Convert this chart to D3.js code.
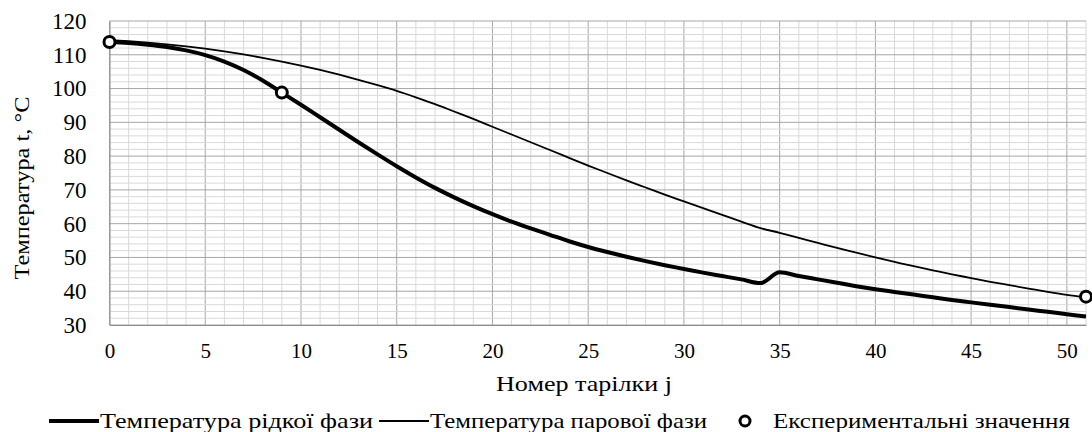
<!DOCTYPE html>
<html>
<head>
<meta charset="utf-8">
<script src="https://cdn.jsdelivr.net/npm/d3@7"></script>
<style>
  body { margin: 0; background: #fff; }
  svg { display: block; }
</style>
</head>
<body>
<svg width="1092" height="432"></svg>
<script>
// номери тарілок
var plates = d3.range(0, 52);

// температура рідкої фази, °C
var liquid = [113.8, 113.5, 113.0, 112.3, 111.3, 109.9, 108.0, 105.5, 102.4, 98.8,
              95.2, 91.5, 87.8, 84.1, 80.5, 77.0, 73.7, 70.6, 67.8, 65.2,
              62.8, 60.6, 58.6, 56.7, 54.8, 53.1, 51.6, 50.2, 48.9, 47.7,
              46.6, 45.5, 44.5, 43.5, 42.4, 45.6, 44.5, 43.5, 42.5, 41.5,
              40.6, 39.8, 39.0, 38.2, 37.4, 36.7, 36.0, 35.3, 34.6, 33.9,
              33.2, 32.5];

// температура парової фази, °C
var vapor = [114.3, 114.0, 113.6, 113.1, 112.5, 111.8, 111.0, 110.1, 109.1, 108.0,
             106.8, 105.5, 104.1, 102.6, 101.0, 99.3, 97.4, 95.4, 93.2, 91.0,
             88.7, 86.4, 84.1, 81.8, 79.5, 77.2, 75.0, 72.8, 70.7, 68.6,
             66.6, 64.6, 62.6, 60.6, 58.7, 57.3, 55.8, 54.3, 52.8, 51.4,
             50.0, 48.7, 47.4, 46.2, 45.0, 43.9, 42.8, 41.8, 40.8, 39.8,
             38.9, 38.2];

// експериментальні значення
var expPlates = [0, 9, 51];
var expValues = [113.8, 98.8, 38.4];

var xTicks = [0, 5, 10, 15, 20, 25, 30, 35, 40, 45, 50];
var yTicks = [30, 40, 50, 60, 70, 80, 90, 100, 110, 120];

var svg = d3.select('svg');
var pl = 109.5, pr = 1086, pt = 21, pb = 325;
var serif = '"Liberation Serif", "Times New Roman", serif';

var x = d3.scaleLinear().domain([0, 51]).range([pl, pr]);
var y = d3.scaleLinear().domain([30, 120]).range([pb, pt]);

// сітка
var grid = svg.append('g');
grid.selectAll('line.v')
    .data(d3.range(0, 52))
    .enter().append('line')
    .attr('x1', d => x(d)).attr('x2', d => x(d))
    .attr('y1', pt).attr('y2', pb)
    .attr('stroke', d => d % 5 == 0 ? '#a6a6a6' : '#d9d9d9')
    .attr('stroke-width', 1);
grid.selectAll('line.h')
    .data(d3.range(30, 121, 2))
    .enter().append('line')
    .attr('x1', pl).attr('x2', pr)
    .attr('y1', d => y(d)).attr('y2', d => y(d))
    .attr('stroke', d => d % 10 == 0 ? '#a6a6a6' : '#d9d9d9')
    .attr('stroke-width', 1);

// осі
var xAxis = d3.axisBottom(x).tickValues(xTicks).tickSize(0).tickPadding(18);
var yAxis = d3.axisLeft(y).tickValues(yTicks).tickSize(0).tickPadding(23);

var gx = svg.append('g').attr('transform', 'translate(0,' + pb + ')').call(xAxis)
    .attr('font-family', serif).attr('font-size', 21);
var gy = svg.append('g').attr('transform', 'translate(' + pl + ',0)').call(yAxis)
    .attr('font-family', serif).attr('font-size', 23);
gx.select('.domain').attr('stroke', '#8c8c8c');
gy.select('.domain').attr('stroke', '#8c8c8c');
svg.selectAll('.tick text').attr('fill', '#000');

svg.append('text')
    .attr('x', 584).attr('y', 391)
    .attr('text-anchor', 'middle')
    .attr('font-family', serif)
    .attr('font-size', 22)
    .attr('textLength', 176)
    .attr('lengthAdjust', 'spacingAndGlyphs')
    .text('Номер тарілки j');

svg.append('text')
    .attr('transform', 'translate(29,188) rotate(-90)')
    .attr('text-anchor', 'middle')
    .attr('font-family', serif)
    .attr('font-size', 22)
    .attr('textLength', 183)
    .attr('lengthAdjust', 'spacingAndGlyphs')
    .text('Температура t, °C');

// лінії
var line = d3.line()
    .x((d, i) => x(plates[i]))
    .y(d => y(d))
    .curve(d3.curveMonotoneX);

svg.append('path')
    .datum(vapor)
    .attr('d', line)
    .attr('fill', 'none')
    .attr('stroke', '#000')
    .attr('stroke-width', 1.8);

svg.append('path')
    .datum(liquid)
    .attr('d', line)
    .attr('fill', 'none')
    .attr('stroke', '#000')
    .attr('stroke-width', 4);

svg.append('g')
    .selectAll('circle')
    .data(expValues)
    .enter().append('circle')
    .attr('cx', (d, i) => x(expPlates[i]))
    .attr('cy', d => y(d))
    .attr('r', 5.5)
    .attr('fill', '#fff')
    .attr('stroke', '#000')
    .attr('stroke-width', 3);

// легенда
var legY = 421;
var leg = svg.append('g').attr('font-size', 22).attr('font-family', serif);
leg.append('line').attr('x1', 49).attr('x2', 99).attr('y1', legY).attr('y2', legY)
    .attr('stroke', '#000').attr('stroke-width', 4);
leg.append('text').attr('x', 100).attr('y', legY + 7)
    .attr('textLength', 273).attr('lengthAdjust', 'spacingAndGlyphs')
    .text('Температура рідкої фази');
leg.append('line').attr('x1', 379).attr('x2', 429).attr('y1', legY).attr('y2', legY)
    .attr('stroke', '#000').attr('stroke-width', 1.8);
leg.append('text').attr('x', 430).attr('y', legY + 7)
    .attr('textLength', 277).attr('lengthAdjust', 'spacingAndGlyphs')
    .text('Температура парової фази');
leg.append('circle').attr('cx', 745).attr('cy', legY).attr('r', 5)
    .attr('fill', '#fff').attr('stroke', '#000').attr('stroke-width', 3);
leg.append('text').attr('x', 773).attr('y', legY + 7)
    .attr('textLength', 297).attr('lengthAdjust', 'spacingAndGlyphs')
    .text('Експериментальні  значення');
</script>
</body>
</html>
